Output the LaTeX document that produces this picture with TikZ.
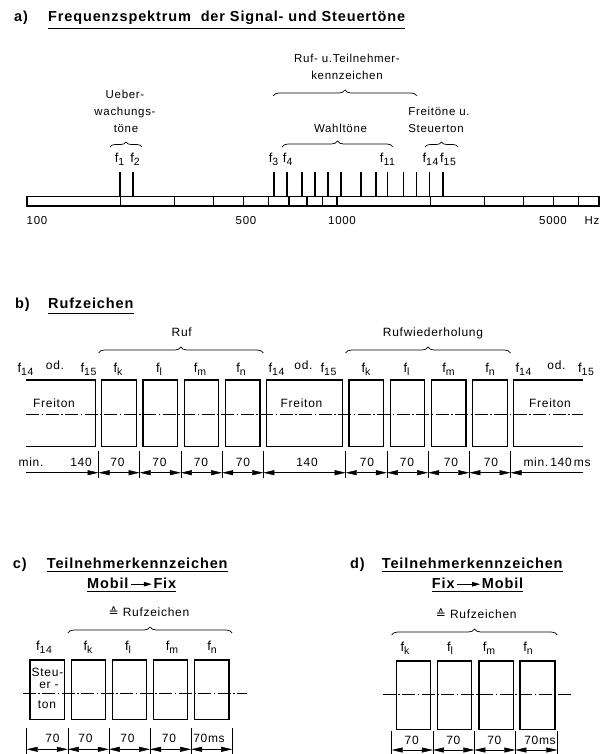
\documentclass[tikz,border=0pt]{standalone}
\usepackage{fontspec}
\setmainfont{Liberation Sans}[LetterSpace=6]
\newfontfamily\symf{DejaVu Sans}
\usetikzlibrary{arrows.meta,decorations.pathreplacing,calc}
\newcommand\fsub[1]{{\fontsize{13}{13}\selectfont f}\raisebox{-3pt}{\fontsize{10.5}{10.5}\selectfont #1}}
\begin{document}
\begin{tikzpicture}[x=1pt,y=-1pt,
  >={Triangle[length=11pt,width=5pt]},
  lbl/.style={inner sep=0pt, font=\fontsize{12}{12}\selectfont, anchor=base},
  lbla/.style={inner sep=0pt, font=\fontsize{11.5}{11.5}\selectfont, anchor=base},
  lbls/.style={inner sep=0pt, font=\fontsize{12}{12}\selectfont, anchor=base},
  ttl/.style={inner sep=0pt, font=\fontsize{14.5}{14.5}\selectfont\bfseries, anchor=base west},
  uline/.style={line width=1.1pt},
  barln/.style={line width=1.1pt},
  tone/.style={line width=1.8pt},
  sig/.style={line width=1.2pt},
  axisdd/.style={line width=0.5pt, dash pattern=on 13pt off 2.5pt on 1.5pt off 2.5pt},
  dimln/.style={line width=0.5pt},
  ext/.style={line width=0.5pt},
  brc/.style={line width=0.7pt, decorate, decoration={brace, amplitude=6pt}},
  brcs/.style={line width=0.7pt, decorate, decoration={brace, amplitude=5pt}},
]
\useasboundingbox[fill=white] (0,0) rectangle (605,754);

% ---------------- a) ----------------
\node[ttl] (ta) at (14,21.7) {a)};
\node[ttl] (tat) at (48,21.7) {Frequenzspektrum\ \ der Signal- und Steuertöne};
\draw[uline] ($(tat.base west)+(0,7)$) -- ($(tat.base east)+(0,7)$);

\node[lbla] (rt1) at (347,63) {Ruf- u.Teilnehmer-};
\node[lbla] (rt2) at (347,80) {kennzeichen};
\draw[brc] (273,96) -- (417,96);

\node[lbla] (ue1) at (125,99) {Ueber-};
\node[lbla] (ue2) at (125,116) {wachungs-};
\node[lbla] (ue3) at (126,133) {töne};
\draw[brcs] (110,147) -- (142,147);

\node[lbla] (wt) at (340.5,133) {Wahltöne};
\draw[brc] (282,147) -- (393,147);

\node[lbla] (fr1) at (439,116) {Freitöne u.};
\node[lbla] (fr2) at (436,133) {Steuerton};
\draw[brcs] (425,147) -- (458,147);

\node[lbla] (f1) at (119.5,163) {\fsub{1}};
\node[lbla] (f2) at (135,163) {\fsub{2}};
\node[lbla] (f3) at (273.5,163) {\fsub{3}};
\node[lbla] (f4) at (287.7,163) {\fsub{4}};
\node[lbla] (f11) at (387.5,163) {\fsub{11}};
\node[lbla] (f14) at (430.5,163) {\fsub{14}};
\node[lbla] (f15) at (448,163) {\fsub{15}};

\foreach \x in {120.3,133.3,274,287,301.6,315,327.8,341.3,361.2,375.7,387.5,403.4,416.5,429.5,443}
  \draw[tone] (\x,172) -- (\x,196.7);

\draw[barln] (27,196.7) rectangle (599,206);
\foreach \f in {200,300,400,500,600,700,800,900,1000,2000,3000,4000,5000,6000}
  \draw[barln] ({27+310*log10(\f/100)},196.7) -- ++(0,9.3);

\node[lbla] (h100) at (37,224) {100};
\node[lbla] (h500) at (246,224) {500};
\node[lbla] (h1000) at (342,224) {1000};
\node[lbla] (h5000) at (553,224) {5000};
\node[lbla] (hz) at (592,224) {Hz};

% ---------------- b) ----------------
\node[ttl] (tb) at (15,308.5) {b)};
\node[ttl] (tbt) at (48,308.5) {Rufzeichen};
\draw[uline] ($(tbt.base west)+(0,5)$) -- ($(tbt.base east)+(0,5)$);

\node[lbl] (ruf) at (181.7,336) {Ruf};
\draw[brc] (98.5,353) -- (263.3,353);
\node[lbl] (rw) at (433,336) {Rufwiederholung};
\draw[brc] (345.7,353) -- (510.5,353);

\node[lbl] (b1) at (25.5,372) {\fsub{14}};
\node[lbl] (b2) at (55,369) {od.};
\node[lbl] (b3) at (88.5,372) {\fsub{15}};
\node[lbl] (b4) at (118,372) {\fsub{k}};
\node[lbl] (b5) at (159,372) {\fsub{l}};
\node[lbl] (b6) at (200,372) {\fsub{m}};
\node[lbl] (b7) at (241,372) {\fsub{n}};
\node[lbl] (b8) at (276.5,372) {\fsub{14}};
\node[lbl] (b9) at (303.5,369) {od.};
\node[lbl] (b10) at (328.5,372) {\fsub{15}};
\node[lbl] (b11) at (366,372) {\fsub{k}};
\node[lbl] (b12) at (406.5,372) {\fsub{l}};
\node[lbl] (b13) at (448.5,372) {\fsub{m}};
\node[lbl] (b14) at (490,372) {\fsub{n}};
\node[lbl] (b15) at (523.5,372) {\fsub{14}};
\node[lbl] (b16) at (556.5,369) {od.};
\node[lbl] (b17) at (586,372) {\fsub{15}};

\draw[sig] (26,380) -- (95.2,380) -- (95.2,446.7) -- (26,446.7);
\foreach \a in {101.8,143,184.2,225.4,349,390.2,431.4,472.6}
  \draw[sig] (\a,380) rectangle ++(34.6,66.7);
\draw[sig] (266.6,380) rectangle (342.4,446.7);
\draw[sig] (583,380) -- (513.8,380) -- (513.8,446.7) -- (583,446.7);
\draw[axisdd] (26,414) -- (583,414);

\node[lbl] (fb1) at (54,407) {Freiton};
\node[lbl] (fb2) at (301.5,407) {Freiton};
\node[lbl] (fb3) at (550,407) {Freiton};

\foreach \t in {98.5,139.7,180.9,222.1,263.3,345.7,386.9,428.1,469.3,510.5}
  \draw[ext] (\t,451) -- (\t,478);
\coordinate (bl) at (26,472.7);
\coordinate (br) at (583,472.7);
\coordinate (t0) at (98.5,472.7);
\coordinate (t1) at (139.7,472.7);
\coordinate (t2) at (180.9,472.7);
\coordinate (t3) at (222.1,472.7);
\coordinate (t4) at (263.3,472.7);
\coordinate (t5) at (345.7,472.7);
\coordinate (t6) at (386.9,472.7);
\coordinate (t7) at (428.1,472.7);
\coordinate (t8) at (469.3,472.7);
\coordinate (t9) at (510.5,472.7);
\draw[dimln,->] (bl) -- (t0);
\draw[dimln,<->] (t0) -- (t1);
\draw[dimln,<->] (t1) -- (t2);
\draw[dimln,<->] (t2) -- (t3);
\draw[dimln,<->] (t3) -- (t4);
\draw[dimln,<->] (t4) -- (t5);
\draw[dimln,<->] (t5) -- (t6);
\draw[dimln,<->] (t6) -- (t7);
\draw[dimln,<->] (t7) -- (t8);
\draw[dimln,<->] (t8) -- (t9);
\draw[dimln,<-] (t9) -- (br);

\node[lbl] (d1) at (31,466) {min.};
\node[lbl] (d2) at (81,466) {140};
\node[lbl] (d3) at (117.5,466) {70};
\node[lbl] (d4) at (159.5,466) {70};
\node[lbl] (d5) at (201,466) {70};
\node[lbl] (d6) at (243,466) {70};
\node[lbl] (d7) at (307,466) {140};
\node[lbl] (d8) at (367,466) {70};
\node[lbl] (d9) at (407,466) {70};
\node[lbl] (d10) at (451,466) {70};
\node[lbl] (d11) at (491,466) {70};
\node[lbl] (d12) at (557,466) {min.\,140\,ms};

% ---------------- c) ----------------
\node[ttl] (tc) at (12.7,568) {c)};
\node[ttl] (tct) at (46.7,568) {Teilnehmerkennzeichen};
\draw[uline] ($(tct.base west)+(0,3.5)$) -- ($(tct.base east)+(0,3.5)$);
\node[ttl] (cm) at (87,588) {Mobil};
\node[ttl] (cf) at (153.3,588) {Fix};
\draw[line width=1pt,-{Triangle[length=8pt,width=4.5pt]}] ($(cm.base east)+(2.5,-3.8)$) -- ($(cf.base west)+(-1.5,-3.8)$);
\draw[uline] ($(cm.base west)+(0,3.5)$) -- ($(cf.base east)+(0,3.5)$);

\node[lbl] (cr) at (149,616) {{\symf ≙}~Rufzeichen};
\draw[brc] (67.8,633) -- (232.2,633);

\node[lbl] (c1) at (44,650) {\fsub{14}};
\node[lbl] (c2) at (88,650) {\fsub{k}};
\node[lbl] (c3) at (128,650) {\fsub{l}};
\node[lbl] (c4) at (172,650) {\fsub{m}};
\node[lbl] (c5) at (212,650) {\fsub{n}};

\foreach \a in {30,71.1,112.2,153.3,194.4}
  \draw[sig] (\a,660) rectangle ++(34.5,59.3);
\draw[axisdd] (22.7,693.3) -- (246.7,693.3);

\node[lbls] (st1) at (47.5,676.7) {Steu-};
\node[lbls] (st2) at (49,688.3) {er -};
\node[lbls] (st3) at (47,708.3) {ton};

\foreach \t in {26.7,67.8,108.9,150,191.1,232.2}
  \draw[ext] (\t,728) -- (\t,754);
\coordinate (c0) at (26.7,749.3);
\coordinate (c1p) at (67.8,749.3);
\coordinate (c2p) at (108.9,749.3);
\coordinate (c3p) at (150,749.3);
\coordinate (c4p) at (191.1,749.3);
\coordinate (c5p) at (232.2,749.3);
\draw[dimln,<->] (c0) -- (c1p);
\draw[dimln,<->] (c1p) -- (c2p);
\draw[dimln,<->] (c2p) -- (c3p);
\draw[dimln,<->] (c3p) -- (c4p);
\draw[dimln,<->] (c4p) -- (c5p);

\node[lbl] (cd1) at (52.5,742.6) {70};
\node[lbl] (cd2) at (85.5,742.6) {70};
\node[lbl] (cd3) at (127.5,742.6) {70};
\node[lbl] (cd4) at (169,742.6) {70};
\node[lbl] (cd5) at (209,742.6) {70ms};

% ---------------- d) ----------------
\node[ttl] (td) at (350,568) {d)};
\node[ttl] (tdt) at (381.7,568) {Teilnehmerkennzeichen};
\draw[uline] ($(tdt.base west)+(0,3.5)$) -- ($(tdt.base east)+(0,3.5)$);
\node[ttl] (df) at (431.7,588) {Fix};
\node[ttl] (dm) at (481.7,588) {Mobil};
\draw[line width=1pt,-{Triangle[length=8pt,width=4.5pt]}] ($(df.base east)+(2.5,-3.8)$) -- ($(dm.base west)+(-1.5,-3.8)$);
\draw[uline] ($(df.base west)+(0,3.5)$) -- ($(dm.base east)+(0,3.5)$);

\node[lbl] (dr) at (476.3,618) {{\symf ≙}~Rufzeichen};
\draw[brc] (391.7,635) -- (557.3,635);

\node[lbl] (e1) at (405,651) {\fsub{k}};
\node[lbl] (e2) at (450,651) {\fsub{l}};
\node[lbl] (e3) at (489,651) {\fsub{m}};
\node[lbl] (e4) at (528,651) {\fsub{n}};

\draw[sig] (396.7,661) rectangle (430.7,729.3);
\draw[sig] (437.3,661) rectangle (471.7,729.3);
\draw[sig] (479,661) rectangle (513.3,729.3);
\draw[sig] (520,661) rectangle (555,729.3);
\draw[axisdd] (382.7,694) -- (570.7,694);

\foreach \t in {391.7,432.9,474.3,515.3,557.3}
  \draw[ext] (\t,731) -- (\t,754);
\coordinate (e0) at (391.7,750);
\coordinate (e1p) at (432.9,750);
\coordinate (e2p) at (474.3,750);
\coordinate (e3p) at (515.3,750);
\coordinate (e4p) at (557.3,750);
\draw[dimln,<->] (e0) -- (e1p);
\draw[dimln,<->] (e1p) -- (e2p);
\draw[dimln,<->] (e2p) -- (e3p);
\draw[dimln,<->] (e3p) -- (e4p);

\node[lbl] (ed1) at (411.7,744) {70};
\node[lbl] (ed2) at (453.3,744) {70};
\node[lbl] (ed3) at (494.3,744) {70};
\node[lbl] (ed4) at (540,744) {70ms};
\end{tikzpicture}
\end{document}
